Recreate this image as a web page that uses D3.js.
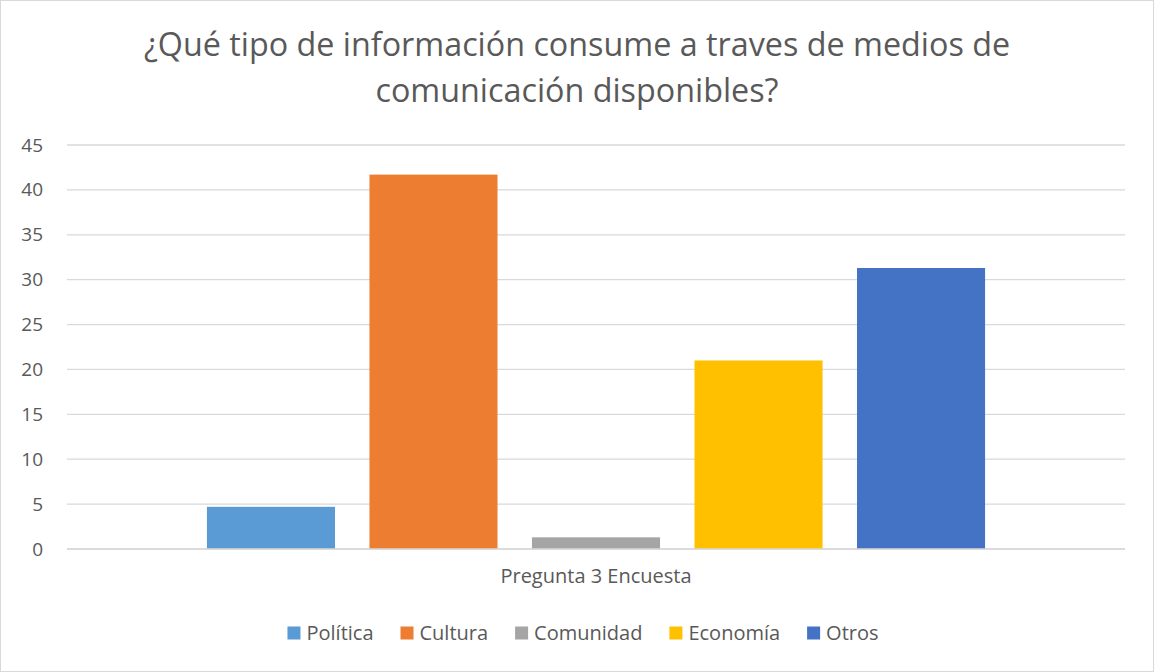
<!DOCTYPE html>
<html lang="es">
<head>
<meta charset="UTF-8">
<script src="https://cdn.jsdelivr.net/npm/d3@7/dist/d3.min.js"></script>
<style>
  body { margin: 0; background: #fff; }
  text { font-family: "Open Sans", "Noto Sans", sans-serif; fill: #595959; }
</style>
</head>
<body>
<svg width="1154" height="672"></svg>
<script>
// data
const titleLines = ["¿Qué tipo de información consume a traves de medios de", "comunicación disponibles?"];
const category = ["Pregunta 3 Encuesta"];
const series = ["Política", "Cultura", "Comunidad", "Economía", "Otros"];
const values = [4.7, 41.7, 1.3, 21, 31.3];
const colors = ["#5B9BD5", "#ED7D31", "#A5A5A5", "#FFC000", "#4472C4"];
const yTicks = [0, 5, 10, 15, 20, 25, 30, 35, 40, 45];

const width = 1154, height = 672;
const margin = {top: 145, right: 29, bottom: 123, left: 67};

const svg = d3.select("svg");

// outer border
svg.append("rect")
    .attr("x", 0.5).attr("y", 0.5)
    .attr("width", width - 1).attr("height", height - 1)
    .attr("fill", "#fff").attr("stroke", "#d9d9d9");

const y = d3.scaleLinear()
    .domain([0, 45])
    .range([height - margin.bottom, margin.top]);

const x0 = d3.scaleBand()
    .domain(category)
    .range([margin.left, width - margin.right])
    .paddingOuter(0.151);

const x1 = d3.scaleBand()
    .domain(series)
    .range([0, x0.bandwidth()])
    .paddingInner(0.212)
    .paddingOuter(0.106);

// gridlines
svg.append("g")
    .selectAll("line")
    .data(yTicks)
    .join("line")
    .attr("x1", margin.left).attr("x2", width - margin.right)
    .attr("y1", d => y(d)).attr("y2", d => y(d))
    .attr("stroke", "#d9d9d9").attr("stroke-width", 1.3);

// y axis labels
const yAxis = svg.append("g")
    .attr("transform", `translate(${margin.left - 24},0)`)
    .call(d3.axisLeft(y).tickValues(yTicks).tickSize(0).tickPadding(0));
yAxis.select(".domain").remove();
yAxis.selectAll("text")
    .attr("font-size", 19)
    .attr("fill", "#595959")
    .style("font-family", '"Open Sans", sans-serif');

// bars
svg.append("g")
    .selectAll("rect")
    .data(series)
    .join("rect")
    .attr("x", d => x0(category[0]) + x1(d))
    .attr("width", x1.bandwidth())
    .attr("y", (d, i) => y(values[i]))
    .attr("height", (d, i) => y(0) - y(values[i]))
    .attr("fill", (d, i) => colors[i]);

// baseline
svg.append("line")
    .attr("x1", margin.left).attr("x2", width - margin.right)
    .attr("y1", y(0)).attr("y2", y(0))
    .attr("stroke", "#d9d9d9").attr("stroke-width", 1.3);

// x axis
const xAxis = svg.append("g")
    .attr("transform", `translate(0,${y(0) + 20})`)
    .call(d3.axisBottom(x0).tickSize(0).tickPadding(0));
xAxis.select(".domain").remove();
xAxis.selectAll("text")
    .attr("font-size", 20)
    .attr("fill", "#595959")
    .style("font-family", '"Open Sans", sans-serif');

// title
svg.append("g")
    .selectAll("text")
    .data(titleLines)
    .join("text")
    .attr("x", width / 2)
    .attr("y", (d, i) => 56 + i * 46)
    .attr("text-anchor", "middle")
    .attr("font-size", 32.3)
    .text(d => d);

// legend
const legend = svg.append("g").attr("transform", "translate(0,633)");
const items = legend.selectAll("g")
    .data(series)
    .join("g");
items.append("rect")
    .attr("y", -6.5)
    .attr("width", 13).attr("height", 13)
    .attr("fill", (d, i) => colors[i]);
items.append("text")
    .attr("x", 19)
    .attr("dy", "0.35em")
    .attr("font-size", 20)
    .text(d => d);

// lay out legend centred
let widths = [];
items.each(function() { widths.push(this.getBBox().width); });
const gap = 27;
const total = d3.sum(widths) + gap * (widths.length - 1);
let cx = 583 - total / 2;
items.attr("transform", (d, i) => {
  const t = `translate(${cx},0)`;
  cx += widths[i] + gap;
  return t;
});
</script>
</body>
</html>
